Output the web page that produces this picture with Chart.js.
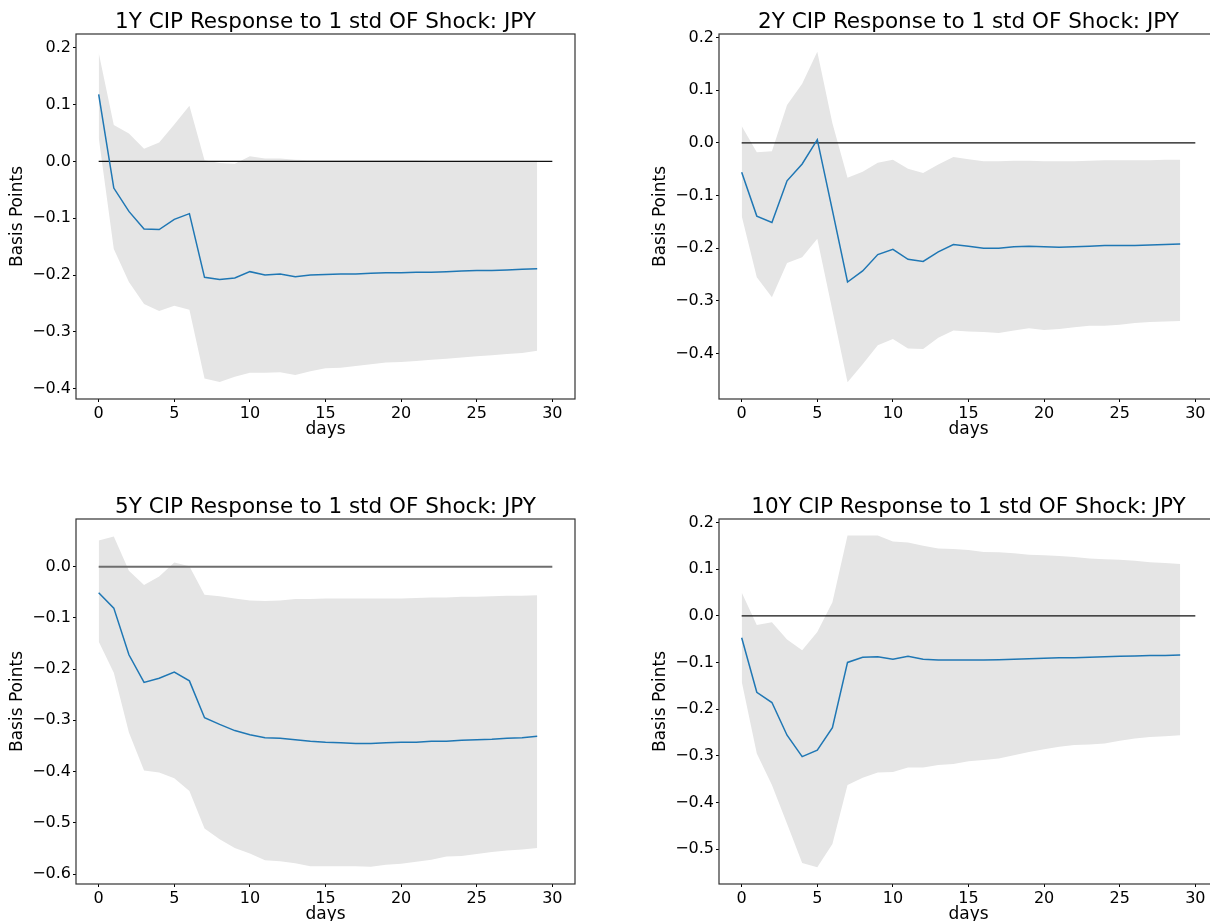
<!DOCTYPE html>
<html>
<head>
<meta charset="utf-8">
<script src="https://cdn.jsdelivr.net/npm/chart.js@4.4.0/dist/chart.umd.min.js"></script>
<style>
    html, body { margin: 0; padding: 0; background: #fff; overflow: hidden; width: 1210px; height: 921px; }
    canvas { position: absolute; }
</style>
</head>
<body>
<canvas id="panel-1y" width="600" height="459" style="left:0px;top:0px"></canvas>
<canvas id="panel-2y" width="600" height="459" style="left:643px;top:0px"></canvas>
<canvas id="panel-5y" width="600" height="459" style="left:0px;top:485px"></canvas>
<canvas id="panel-10y" width="600" height="459" style="left:643px;top:485px"></canvas>
<script>
// 横軸（日数）と目盛り
const days = [0, 1, 2, 3, 4, 5, 6, 7, 8, 9, 10, 11, 12, 13, 14, 15, 16, 17, 18, 19, 20, 21, 22, 23, 24, 25, 26, 27, 28, 29];
const xTicks = [0, 5, 10, 15, 20, 25, 30];
const zeroLineX = [0, 30];

const titles = [
    '1Y CIP Response to 1 std OF Shock: JPY',
    '2Y CIP Response to 1 std OF Shock: JPY',
    '5Y CIP Response to 1 std OF Shock: JPY',
    '10Y CIP Response to 1 std OF Shock: JPY'
];

// --- 1Y ---
const irf1Y = [0.118, -0.047, -0.088, -0.119, -0.120, -0.102, -0.092, -0.204, -0.208, -0.205, -0.194, -0.200, -0.198, -0.203, -0.200, -0.199, -0.198, -0.198, -0.197, -0.196, -0.196, -0.195, -0.195, -0.194, -0.193, -0.192, -0.192, -0.191, -0.190, -0.189];
const upper1Y = [0.191, 0.064, 0.049, 0.022, 0.033, 0.065, 0.098, 0.002, -0.003, -0.004, 0.009, 0.005, 0.005, 0.003, 0.002, 0.002, 0.002, 0.002, 0.002, 0.002, 0.002, 0.002, 0.001, 0.001, 0.001, 0.001, 0.001, 0.001, 0.001, 0.001];
const lower1Y = [0.042, -0.154, -0.212, -0.251, -0.263, -0.254, -0.261, -0.382, -0.388, -0.379, -0.372, -0.372, -0.371, -0.376, -0.369, -0.364, -0.363, -0.360, -0.357, -0.354, -0.353, -0.351, -0.349, -0.347, -0.345, -0.343, -0.341, -0.339, -0.337, -0.333];
const yTicks1Y = [-0.4, -0.3, -0.2, -0.1, 0, 0.1, 0.2];
const yRange1Y = [-0.418, 0.224];

// --- 2Y ---
const irf2Y = [-0.056, -0.139, -0.151, -0.072, -0.040, 0.006, -0.128, -0.264, -0.243, -0.212, -0.202, -0.221, -0.225, -0.207, -0.193, -0.196, -0.200, -0.200, -0.197, -0.196, -0.197, -0.198, -0.197, -0.196, -0.195, -0.195, -0.195, -0.194, -0.193, -0.192];
const upper2Y = [0.032, -0.018, -0.016, 0.072, 0.112, 0.173, 0.037, -0.066, -0.055, -0.038, -0.032, -0.049, -0.057, -0.041, -0.027, -0.031, -0.035, -0.035, -0.034, -0.034, -0.035, -0.035, -0.035, -0.034, -0.033, -0.033, -0.033, -0.033, -0.032, -0.032];
const lower2Y = [-0.139, -0.255, -0.293, -0.228, -0.217, -0.182, -0.318, -0.454, -0.420, -0.384, -0.372, -0.390, -0.391, -0.370, -0.356, -0.358, -0.359, -0.361, -0.356, -0.352, -0.355, -0.353, -0.350, -0.347, -0.347, -0.345, -0.342, -0.340, -0.339, -0.338];
const yTicks2Y = [-0.4, -0.3, -0.2, -0.1, 0, 0.1, 0.2];
const yRange2Y = [-0.486, 0.2065];

// --- 5Y ---
const irf5Y = [-0.051, -0.081, -0.172, -0.226, -0.218, -0.206, -0.223, -0.295, -0.308, -0.320, -0.328, -0.334, -0.335, -0.338, -0.341, -0.343, -0.344, -0.345, -0.345, -0.344, -0.343, -0.343, -0.341, -0.341, -0.339, -0.338, -0.337, -0.335, -0.334, -0.331];
const upper5Y = [0.051, 0.059, -0.008, -0.036, -0.019, 0.008, 0.001, -0.055, -0.058, -0.062, -0.066, -0.067, -0.066, -0.063, -0.063, -0.062, -0.062, -0.062, -0.062, -0.062, -0.062, -0.061, -0.060, -0.060, -0.059, -0.059, -0.058, -0.057, -0.057, -0.056];
const lower5Y = [-0.146, -0.207, -0.324, -0.398, -0.402, -0.413, -0.438, -0.511, -0.532, -0.549, -0.560, -0.573, -0.575, -0.579, -0.585, -0.585, -0.585, -0.585, -0.586, -0.582, -0.580, -0.576, -0.572, -0.566, -0.565, -0.561, -0.557, -0.554, -0.552, -0.549];
const yTicks5Y = [-0.6, -0.5, -0.4, -0.3, -0.2, -0.1, 0];
const yRange5Y = [-0.6195, 0.093];

// --- 10Y ---
const irf10Y = [-0.047, -0.164, -0.186, -0.256, -0.302, -0.288, -0.240, -0.100, -0.089, -0.088, -0.093, -0.087, -0.093, -0.095, -0.095, -0.095, -0.095, -0.094, -0.093, -0.092, -0.091, -0.090, -0.090, -0.089, -0.088, -0.087, -0.086, -0.085, -0.085, -0.084];
const upper10Y = [0.050, -0.020, -0.014, -0.051, -0.074, -0.035, 0.029, 0.172, 0.172, 0.172, 0.159, 0.157, 0.150, 0.144, 0.143, 0.141, 0.137, 0.136, 0.134, 0.131, 0.130, 0.128, 0.126, 0.123, 0.121, 0.120, 0.118, 0.115, 0.113, 0.111];
const lower10Y = [-0.141, -0.295, -0.363, -0.446, -0.530, -0.539, -0.489, -0.363, -0.347, -0.336, -0.335, -0.325, -0.325, -0.320, -0.318, -0.312, -0.309, -0.306, -0.299, -0.292, -0.286, -0.281, -0.277, -0.276, -0.274, -0.268, -0.263, -0.260, -0.258, -0.256];
const yTicks10Y = [-0.5, -0.4, -0.3, -0.2, -0.1, 0, 0.1, 0.2];
const yRange10Y = [-0.575, 0.2075];

const FONT = "'DejaVu Sans', sans-serif";
const toPoints = (xs, ys) => ys.map((y, i) => ({ x: xs[i], y }));

// 枠線（四辺）を描くプラグイン
const frameBox = {
    id: 'frameBox',
    afterDatasetsDraw(chart) {
        const { ctx, chartArea: a } = chart;
        ctx.save();
        ctx.strokeStyle = '#333';
        ctx.lineWidth = 1.2;
        ctx.strokeRect(a.left, a.top, a.right - a.left, a.bottom - a.top);
        ctx.restore();
    }
};

function makePanel(canvasId, title, irf, lower, upper, yTicks, yRange, zeroColor, zeroWidth) {
    const canvas = document.getElementById(canvasId);
    return new Chart(canvas.getContext('2d'), {
        type: 'line',
        data: {
            datasets: [
                { data: toPoints(days, irf), borderColor: '#1f77b4', borderWidth: 1.5, pointRadius: 0, fill: false, tension: 0 },
                { data: toPoints(zeroLineX, [0, 0]), borderColor: zeroColor, borderWidth: zeroWidth, pointRadius: 0, fill: false },
                { data: toPoints(days, lower), borderWidth: 0, borderColor: 'rgba(0,0,0,0)', pointRadius: 0, fill: false },
                { data: toPoints(days, upper), borderWidth: 0, borderColor: 'rgba(0,0,0,0)', pointRadius: 0, fill: '-1', backgroundColor: '#e5e5e5' }
            ]
        },
        options: {
            responsive: false,
            animation: false,
            devicePixelRatio: 1,
            layout: { padding: { left: 0, right: 25, top: 0, bottom: 0 } },
            plugins: {
                legend: { display: false },
                tooltip: { enabled: false },
                title: { display: true, fullSize: false, align: 'center', text: title, color: '#000', font: { family: FONT, size: 21.5, weight: 'normal', lineHeight: 1 }, padding: { top: 12, bottom: 0.5 } }
            },
            scales: {
                x: {
                    type: 'linear', min: -1.5, max: 31.5,
                    afterBuildTicks: axis => { axis.ticks = xTicks.map(v => ({ value: v })); },
                    afterFit: axis => { axis.height = 60; },
                    grid: { drawOnChartArea: false, drawTicks: true, tickLength: 3, tickColor: '#000', tickWidth: 1 },
                    border: { display: false },
                    ticks: { color: '#000', font: { family: FONT, size: 16 }, padding: 2, maxRotation: 0, callback: v => String(v) },
                    title: { display: true, text: 'days', color: '#000', font: { family: FONT, size: 17, lineHeight: 1 }, padding: { top: 0, bottom: 21 } }
                },
                y: {
                    type: 'linear', min: yRange[0], max: yRange[1],
                    afterBuildTicks: axis => { axis.ticks = yTicks.map(v => ({ value: v })); },
                    afterFit: axis => { axis.width = 76; },
                    grid: { drawOnChartArea: false, drawTicks: true, tickLength: 3, tickColor: '#000', tickWidth: 1 },
                    border: { display: false },
                    ticks: { color: '#000', font: { family: FONT, size: 16 }, padding: 2, callback: v => v.toFixed(1).replace('-', '\u2212') },
                    title: { display: true, text: 'Basis Points', color: '#000', font: { family: FONT, size: 17, lineHeight: 1 }, padding: { top: 9.5, bottom: 0 } }
                }
            }
        },
        plugins: [frameBox]
    });
}

makePanel('panel-1y', titles[0], irf1Y, lower1Y, upper1Y, yTicks1Y, yRange1Y, '#111', 1.3);
makePanel('panel-2y', titles[1], irf2Y, lower2Y, upper2Y, yTicks2Y, yRange2Y, '#111', 1.3);
makePanel('panel-5y', titles[2], irf5Y, lower5Y, upper5Y, yTicks5Y, yRange5Y, '#6e6e6e', 2);
makePanel('panel-10y', titles[3], irf10Y, lower10Y, upper10Y, yTicks10Y, yRange10Y, '#111', 1.3);
</script>
</body>
</html>
